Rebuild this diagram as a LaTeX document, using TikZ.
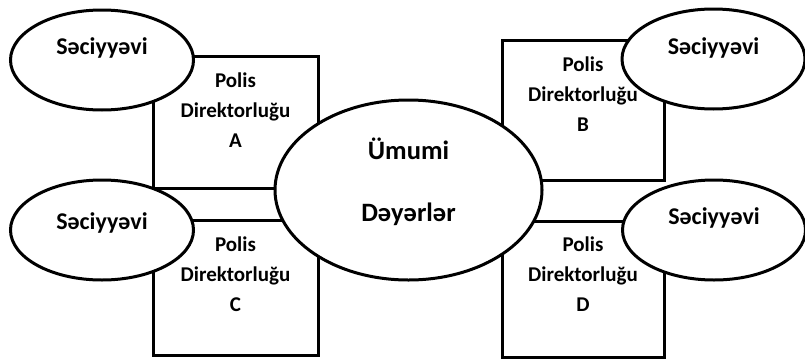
\documentclass[tikz,border=0pt]{standalone}
\usepackage{fontspec}
\setmainfont{Carlito}
\usetikzlibrary{shapes.geometric}

\begin{document}
\begin{tikzpicture}[
        x=1pt, y=-1pt,
        polisBox/.style={rectangle, draw=black, fill=white, line width=3pt, inner sep=0pt},
        traitNode/.style={ellipse, draw=black, fill=white, line width=3pt, minimum width=183pt, minimum height=100pt, inner sep=0pt},
        coreNode/.style={ellipse, draw=black, fill=white, line width=3pt, minimum width=267pt, minimum height=180pt, inner sep=0pt},
        boxText/.style={align=center, inner sep=0pt, font=\bfseries\fontsize{21}{30}\selectfont},
        traitText/.style={inner sep=0pt, font=\bfseries\fontsize{24}{28}\selectfont},
        coreText/.style={align=center, inner sep=0pt, font=\bfseries\fontsize{26.5}{62}\selectfont}
    ]
        \useasboundingbox (0,0) rectangle (805,359);

        \node[polisBox, minimum width=165pt, minimum height=132pt] (boxA) at (235.5,122) {};
        \node[polisBox, minimum width=162pt, minimum height=140pt] (boxB) at (583,110) {};
        \node[polisBox, minimum width=165pt, minimum height=135pt] (boxC) at (235.5,287.5) {};
        \node[polisBox, minimum width=162pt, minimum height=136pt] (boxD) at (583,289) {};

        \node[traitNode] (traitA) at (102,60) {};
        \node[traitNode] (traitB) at (713.5,59) {};
        \node[traitNode] (traitC) at (102,230) {};
        \node[traitNode] (traitD) at (714,230) {};

        \node[coreNode] (core) at (408.5,190) {};

        \node[boxText] (textA) at ([yshift=11.5pt]boxA.center) {Polis\\Direktorluğu\\A};
        \node[boxText] (textB) at ([yshift=15.5pt]boxB.center) {Polis\\Direktorluğu\\B};
        \node[boxText] (textC) at ([yshift=13pt]boxC.center) {Polis\\Direktorluğu\\C};
        \node[boxText] (textD) at ([yshift=14.5pt]boxD.center) {Polis\\Direktorluğu\\D};

        \node[traitText] (labelA) at ([yshift=12pt]traitA.center) {Səciyyəvi};
        \node[traitText] (labelB) at ([yshift=11pt]traitB.center) {Səciyyəvi};
        \node[traitText] (labelC) at ([yshift=7pt]traitC.center) {Səciyyəvi};
        \node[traitText] (labelD) at ([yshift=12pt]traitD.center) {Səciyyəvi};

        \node[coreText] (coreLabel) at ([yshift=8.5pt]core.center) {Ümumi\\Dəyərlər};
    \end{tikzpicture}
\end{document}
